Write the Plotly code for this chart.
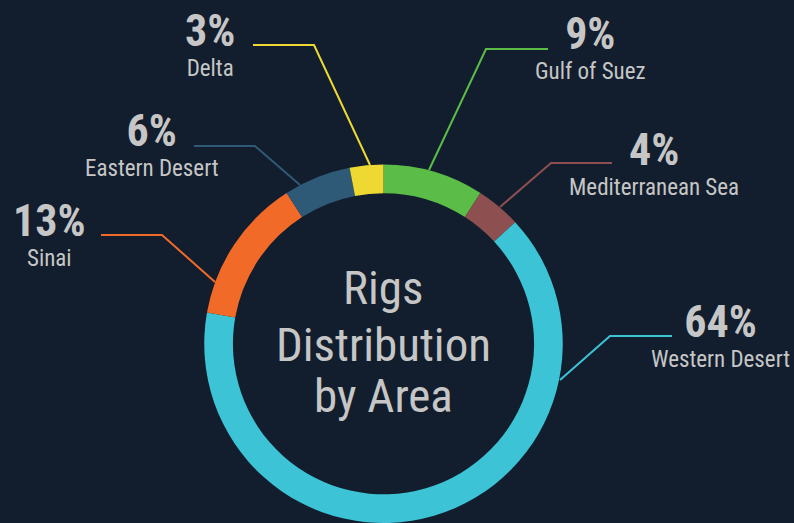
import plotly.graph_objects as go

# ---- data ----
areas = ["Gulf of Suez", "Mediterranean Sea", "Western Desert", "Sinai", "Eastern Desert", "Delta"]
shares = [9, 4, 64, 13, 6, 3]
colors = ["#5bbd48", "#8d4f50", "#3cc3d6", "#f26a28", "#2e5a78", "#eed832"]
center_title = ["Rigs", "Distribution", "by Area"]

W, H = 794, 523
BG = "#121e2d"
TXT = "#c6c6c6"
FONT = "Roboto Condensed, Liberation Sans Narrow, DejaVu Sans Condensed, sans-serif"


def px(x, y):
    return x / W, 1 - y / H


fig = go.Figure(go.Pie(
    labels=areas, values=shares, sort=False, direction="clockwise", rotation=0,
    hole=0.84, textinfo="none", hoverinfo="label+percent",
    marker=dict(colors=colors, line=dict(width=0)),
    domain=dict(x=[204 / W, 563 / W], y=[0, 1 - 164.5 / H]),
    showlegend=False,
))

# label layout: centre of the label block and leader line (pixels)
label_pos = {
    "Gulf of Suez": dict(c=(590, 47), line=[(548, 49), (486, 49), (429, 170)]),
    "Mediterranean Sea": dict(c=(654, 162), line=[(612, 163), (551, 163), (500, 207)]),
    "Western Desert": dict(c=(720, 334), line=[(672, 336), (610, 336), (560, 380)]),
    "Sinai": dict(c=(49, 233), line=[(101, 235), (162, 235), (215, 282)]),
    "Eastern Desert": dict(c=(152, 143), line=[(194, 146), (255, 146), (300, 185)]),
    "Delta": dict(c=(210, 43), line=[(253, 45), (314, 45), (370, 165)]),
}

annotations = []
shapes = []
for area, val, col in zip(areas, shares, colors):
    p = label_pos[area]
    x, y = px(*p["c"])
    annotations.append(dict(
        x=x, y=y, xref="paper", yref="paper",
        text=f"<span style='font-size:44px;font-weight:bold'>{val}%</span><br>{area}",
        showarrow=False, xanchor="center", yanchor="middle", align="center",
        font=dict(family=FONT, size=23, color=TXT)))
    pts = [px(a, b) for a, b in p["line"]]
    path = "M " + " L ".join(f"{a},{b}" for a, b in pts)
    shapes.append(dict(type="path", path=path, xref="paper", yref="paper",
                       line=dict(color=col, width=2)))

for line, cy in zip(center_title, [287, 344, 395]):
    x, y = px(383, cy)
    annotations.append(dict(x=x, y=y, xref="paper", yref="paper", text=line,
                            showarrow=False, xanchor="center", yanchor="middle",
                            font=dict(family=FONT, size=47, color=TXT)))

fig.update_layout(
    width=W, height=H, margin=dict(l=0, r=0, t=0, b=0),
    paper_bgcolor=BG, plot_bgcolor=BG,
    annotations=annotations, shapes=shapes,
)

fig.write_html("out.html", config={"displayModeBar": False},
               post_script="document.body.style.margin='0';")
